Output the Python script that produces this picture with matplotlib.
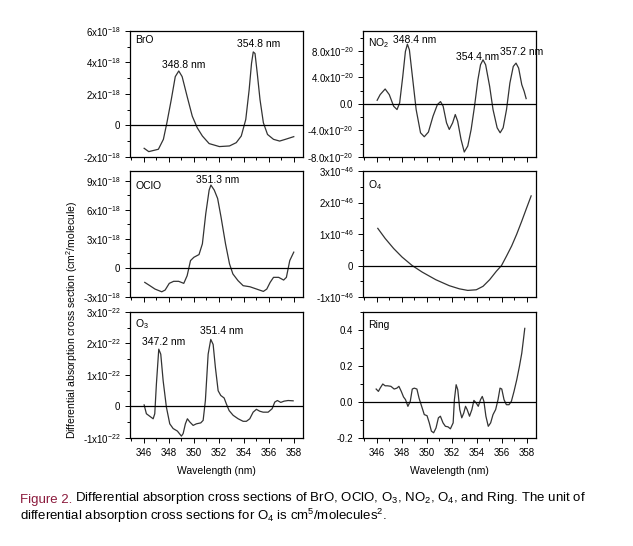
import numpy as np
import matplotlib
matplotlib.use('Agg')
import matplotlib.pyplot as plt
from matplotlib.ticker import FixedLocator, FixedFormatter, MultipleLocator

plt.rcParams['font.family'] = ['Liberation Sans', 'DejaVu Sans']
plt.rcParams['mathtext.default'] = 'regular'

# ---- data ----
bro_wl = [346.03, 346.4, 347.17, 347.57, 347.85, 348.2, 348.52, 348.8, 349.07, 349.47,
          349.88, 350.28, 350.69, 351.23, 352.05, 352.86, 353.4, 353.8, 354.16, 354.43,
          354.62, 354.76, 354.9, 355.08, 355.3, 355.57, 355.9, 356.38, 356.87, 357.33, 358.0]
bro = [-1.45, -1.66, -1.51, -0.88, 0.17, 1.64, 3.1, 3.46, 3.1, 1.84,
       0.59, -0.15, -0.67, -1.15, -1.34, -1.3, -1.09, -0.67, 0.38, 2.26,
       3.94, 4.67, 4.57, 3.31, 1.64, 0.17, -0.57, -0.88, -0.99, -0.88, -0.71]  # 1e-18

no2_wl = [346.03, 346.27, 346.67, 347.0, 347.35, 347.62, 347.83, 348.08, 348.29, 348.45,
          348.61, 348.88, 349.15, 349.5, 349.8, 350.13, 350.5, 350.85, 351.1, 351.31,
          351.58, 351.8, 352.07, 352.28, 352.47, 352.74, 353.0, 353.28, 353.55, 353.82,
          354.09, 354.3, 354.5, 354.71, 355.03, 355.3, 355.63, 355.87, 356.11, 356.38,
          356.65, 356.92, 357.14, 357.35, 357.6, 357.79, 357.95]
no2 = [0.55, 1.4, 2.25, 1.4, -0.35, -0.85, 0.15, 4.15, 7.9, 9.0,
       8.15, 3.65, -0.85, -4.35, -4.95, -4.25, -1.85, -0.1, 0.35, -0.35,
       -2.85, -3.85, -2.85, -1.6, -2.6, -5.35, -7.25, -6.35, -3.85, -0.35,
       3.65, 5.9, 6.65, 5.9, 2.65, -0.85, -3.6, -4.35, -3.6, -0.85,
       3.15, 5.65, 6.15, 5.4, 2.9, 1.9, 0.8]  # 1e-20

oclo_wl = [346.08, 346.49, 346.9, 347.44, 347.71, 348.04, 348.39, 348.79, 349.2, 349.47,
           349.74, 350.01, 350.42, 350.69, 350.96, 351.23, 351.37, 351.64, 351.91, 352.18,
           352.54, 352.86, 353.13, 353.54, 353.95, 354.49, 355.03, 355.57, 355.84, 356.11,
           356.38, 356.79, 357.19, 357.41, 357.68, 358.0]
oclo = [-1.49, -1.83, -2.18, -2.46, -2.28, -1.59, -1.38, -1.38, -1.59, -0.8,
        0.76, 1.1, 1.38, 2.49, 5.6, 8.03, 8.55, 8.03, 7.16, 5.26,
        2.49, 0.42, -0.62, -1.31, -1.83, -1.94, -2.18, -2.42, -2.18, -1.49,
        -0.97, -0.97, -1.25, -0.97, 0.76, 1.63]  # 1e-18

o4_wl = [346.08, 346.67, 347.35, 348.02, 348.83, 349.64, 350.72, 351.8, 352.61, 353.28,
         353.96, 354.5, 355.03, 355.57, 355.98, 356.38, 356.79, 357.19, 357.6, 358.0, 358.35]
o4 = [1.18, 0.86, 0.54, 0.27, 0.0, -0.21, -0.45, -0.64, -0.74, -0.79,
      -0.77, -0.66, -0.45, -0.18, 0.0, 0.3, 0.62, 0.99, 1.41, 1.84, 2.21]  # 1e-46

o3_wl = [346.03, 346.21, 346.48, 346.75, 346.88, 347.01, 347.2, 347.36, 347.55, 347.81,
         348.08, 348.35, 348.69, 349.01, 349.15, 349.33, 349.49, 349.68, 349.95, 350.21,
         350.56, 350.75, 350.93, 351.15, 351.36, 351.55, 351.73, 351.95, 352.16, 352.43,
         352.61, 352.83, 353.15, 353.55, 353.95, 354.21, 354.48, 354.75, 355.01, 355.28,
         355.55, 355.95, 356.27, 356.48, 356.69, 356.96, 357.23, 357.55, 357.95]
o3 = [0.05, -0.23, -0.31, -0.39, -0.23, 0.71, 1.82, 1.66, 0.82, -0.02,
      -0.55, -0.7, -0.78, -0.94, -0.86, -0.55, -0.39, -0.49, -0.6, -0.55,
      -0.52, -0.44, 0.19, 1.66, 2.13, 1.97, 1.24, 0.5, 0.35, 0.27,
      0.08, -0.13, -0.28, -0.39, -0.47, -0.47, -0.39, -0.18, -0.09, -0.15,
      -0.18, -0.18, -0.07, 0.14, 0.19, 0.13, 0.17, 0.19, 0.18]  # 1e-22

ring_wl = [345.95, 346.13, 346.27, 346.48, 346.67, 346.86, 347.13, 347.39, 347.61, 347.77,
           347.96, 348.14, 348.3, 348.49, 348.68, 348.84, 349.0, 349.21, 349.38, 349.59,
           349.8, 350.02, 350.2, 350.37, 350.55, 350.74, 350.93, 351.09, 351.3, 351.49,
           351.7, 351.89, 352.11, 352.21, 352.35, 352.48, 352.64, 352.8, 352.96, 353.1,
           353.23, 353.42, 353.61, 353.77, 353.96, 354.12, 354.3, 354.44, 354.57, 354.73,
           354.92, 355.11, 355.3, 355.51, 355.7, 355.86, 356.0, 356.18, 356.37, 356.58,
           356.77, 356.98, 357.2, 357.41, 357.6, 357.73, 357.84]
ring = [0.072, 0.059, 0.077, 0.1, 0.09, 0.09, 0.087, 0.072, 0.077, 0.087,
        0.059, 0.028, 0.013, -0.024, 0.004, 0.072, 0.077, 0.072, 0.022, -0.024,
        -0.07, -0.076, -0.116, -0.162, -0.171, -0.144, -0.088, -0.079, -0.116, -0.135,
        -0.138, -0.149, -0.116, 0.013, 0.096, 0.068, -0.042, -0.088, -0.061, -0.024,
        -0.042, -0.079, -0.042, 0.009, -0.006, -0.024, 0.013, 0.031, 0.004, -0.079,
        -0.135, -0.116, -0.07, -0.042, 0.013, 0.077, 0.072, 0.013, -0.015, -0.015,
        0.004, 0.059, 0.124, 0.197, 0.271, 0.345, 0.409]

xticks = [346, 348, 350, 352, 354, 356, 358]

# name, wl, values, scale, ylim, yticks, yticklabels, minor step, name pos, peak labels
panels = [
    ('BrO', bro_wl, bro, 1e-18, (-2, 6), [-2, 0, 2, 4, 6],
     ['-2x10$^{-18}$', '0', '2x10$^{-18}$', '4x10$^{-18}$', '6x10$^{-18}$'], 1, 0.93,
     [(349.2, 3.85, '348.8 nm'), (355.2, 5.2, '354.8 nm')]),
    ('NO$_2$', no2_wl, no2, 1e-20, (-8, 11), [-8, -4, 0, 4, 8],
     ['-8.0x10$^{-20}$', '-4.0x10$^{-20}$', '0.0', '4.0x10$^{-20}$', '8.0x10$^{-20}$'], 2, 0.9,
     [(349.0, 9.6, '348.4 nm'), (354.1, 7.05, '354.4 nm'), (357.6, 7.9, '357.2 nm')]),
    ('OClO', oclo_wl, oclo, 1e-18, (-3, 10), [-3, 0, 3, 6, 9],
     ['-3x10$^{-18}$', '0', '3x10$^{-18}$', '6x10$^{-18}$', '9x10$^{-18}$'], 1.5, 0.88,
     [(351.9, 9.1, '351.3 nm')]),
    ('O$_4$', o4_wl, o4, 1e-46, (-1, 3), [-1, 0, 1, 2, 3],
     ['-1x10$^{-46}$', '0', '1x10$^{-46}$', '2x10$^{-46}$', '3x10$^{-46}$'], 0.5, 0.89, []),
    ('O$_3$', o3_wl, o3, 1e-22, (-1, 3), [-1, 0, 1, 2, 3],
     ['-1x10$^{-22}$', '0', '1x10$^{-22}$', '2x10$^{-22}$', '3x10$^{-22}$'], 0.5, 0.9,
     [(347.6, 2.06, '347.2 nm'), (352.2, 2.4, '351.4 nm')]),
    ('Ring', ring_wl, ring, 1, (-0.2, 0.5), [-0.2, 0.0, 0.2, 0.4],
     ['-0.2', '0.0', '0.2', '0.4'], 0.1, 0.9, []),
]

fig = plt.figure(figsize=(6.33, 5.46), dpi=100)
lefts = [0.2054, 0.5735]
bottoms = [0.7125, 0.456, 0.1978]
w, h = 0.2725, 0.2308

for i, (name, wl, vals, sc, ylim, yt, ytl, mstep, ny, peaks) in enumerate(panels):
    row, col = i // 2, i % 2
    ax = fig.add_axes([lefts[col], bottoms[row], w, h])
    ax.plot(wl, np.array(vals) * sc, color='#333333', lw=0.9, solid_joinstyle='round')
    ax.axhline(0, color='black', lw=0.9)
    ax.set_xlim(344.9, 358.7)
    ax.set_ylim(ylim[0] * sc, ylim[1] * sc)
    ax.xaxis.set_major_locator(FixedLocator(xticks))
    ax.xaxis.set_minor_locator(MultipleLocator(1))
    ax.yaxis.set_major_locator(FixedLocator([v * sc for v in yt]))
    ax.yaxis.set_major_formatter(FixedFormatter(ytl))
    ax.yaxis.set_minor_locator(MultipleLocator(mstep * sc))
    ax.tick_params(which='both', direction='out', labelsize=7, width=0.7)
    ax.tick_params(which='major', length=3.5)
    ax.tick_params(which='minor', length=2)
    if row < 2:
        ax.tick_params(labelbottom=False)
    else:
        ax.set_xlabel('Wavelength (nm)', fontsize=7.5, labelpad=6)
    for s in ax.spines.values():
        s.set_linewidth(0.9)
    ax.text(0.03, ny, name, transform=ax.transAxes, fontsize=7.5, va='center', ha='left')
    for px, py, lab in peaks:
        ax.text(px, py * sc, lab, fontsize=7.5, ha='center', va='center')
    if i == 0:
        ax0 = ax

fig.text(0.114, 0.415, 'Differential absorption cross section (cm$^2$/molecule)',
         rotation=90, fontsize=7.5, ha='center', va='center')

cap_font = ['Liberation Sans Narrow', 'Liberation Sans']
t1 = fig.text(0.032, 0.073, 'Figure 2.', color='#8b1a3c', fontsize=9.5,
              family=cap_font, va='bottom')
ax0.annotate('Differential absorption cross sections of BrO, OClO, O$_3$, NO$_2$, O$_4$, and Ring. The unit of',
             xy=(1, 0), xycoords=t1, xytext=(1.5, 0), textcoords='offset points',
             fontsize=9.5, family=cap_font,
             va='bottom', ha='left', annotation_clip=False)
fig.text(0.032, 0.038, 'differential absorption cross sections for O$_4$ is cm$^5$/molecules$^2$.',
         fontsize=9.5, family=cap_font, va='bottom')

fig.savefig('out.png', dpi=100)
